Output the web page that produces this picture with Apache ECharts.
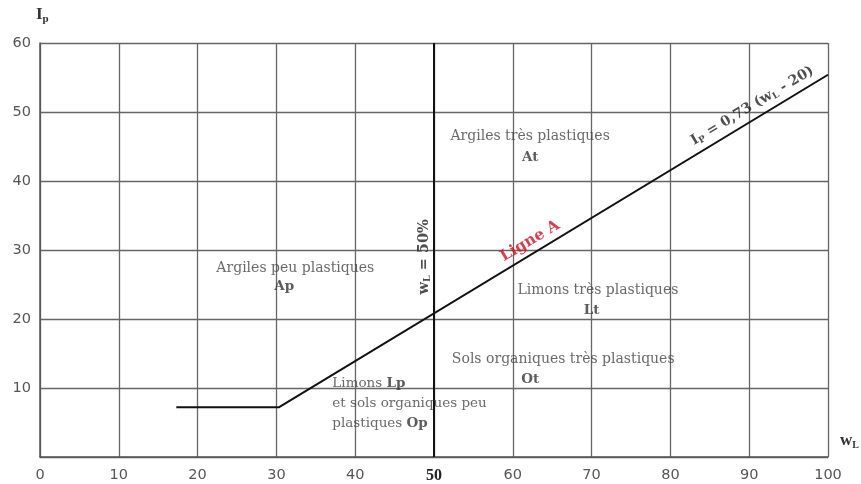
<!DOCTYPE html>
<html><head><meta charset="utf-8">
<script src="https://cdn.jsdelivr.net/npm/echarts@6/dist/echarts.min.js"></script>
<style>html,body{margin:0;padding:0;background:#fff}#c{width:861px;height:484px}</style>
</head><body><div id="c"></div>
<script>
// Data
const xTicks = [0,10,20,30,40,50,60,70,80,90,100];
const yTicks = [0,10,20,30,40,50,60];
const ligneA = [[17.3,7.2],[30.3,7.2],[100,55.4]];
const limite50 = [[50,0],[50,60]];
const zoneLabels = [
  {name:'Argiles très plastiques', x:62.2, y:46.4},
  {name:'Argiles peu plastiques', x:32.4, y:27.4},
  {name:'Limons très plastiques', x:70.8, y:24.2},
  {name:'Sols organiques très plastiques', x:66.4, y:14.1}
];
const zoneCodes = [
  {name:'At', x:62.2, y:43.4},
  {name:'Ap', x:31.0, y:24.7},
  {name:'Lt', x:70.0, y:21.3},
  {name:'Ot', x:62.2, y:11.25}
];
const lowBlock = {x:37.1, y:7.7};
const lineNotes = [
  {name:'Ligne A', x:62.2, y:31.3},
  {name:'formula', x:90.4, y:50.9},
  {name:'wl50', x:48.7, y:29.0}
];

const serif = '"DejaVu Serif","Liberation Serif",serif';
const chart = echarts.init(document.getElementById('c'));
chart.setOption({
  animation:false,
  grid:{left:40,right:33,top:43,bottom:25},
  xAxis:{type:'value',min:0,max:100,interval:10,
    axisLine:{lineStyle:{color:'#555',width:1.5}},
    axisTick:{show:false},
    splitLine:{lineStyle:{color:'#666',width:1.3}},
    axisLabel:{margin:11,color:'#555',fontSize:14.5,fontFamily:'"DejaVu Sans",sans-serif',
      formatter:v=> v===50 ? '{b|50}' : String(v),
      rich:{b:{fontWeight:'bold',fontFamily:'"Liberation Serif",serif',fontSize:16,color:'#222'}}}
  },
  yAxis:{type:'value',min:0,max:60,interval:10,
    axisLine:{show:true,lineStyle:{color:'#555',width:1.5}},
    axisTick:{show:false},
    splitLine:{lineStyle:{color:'#666',width:1.3}},
    axisLabel:{margin:9,color:'#555',fontSize:14.5,fontFamily:'"DejaVu Sans",sans-serif',
      formatter:v=> v===0 ? '' : String(v)}
  },
  graphic:[
    {type:'text',left:36,top:6,style:{text:'{i|I}{s|p}',rich:{i:{fontFamily:'"Liberation Serif",serif',fontWeight:'bold',fontSize:17,fill:'#333'},s:{fontFamily:'"Liberation Serif",serif',fontWeight:'bold',fontSize:11,fill:'#333',padding:[9,0,0,0]}}}},
    {type:'text',left:840,top:432,style:{text:'{i|w}{s|L}',rich:{i:{fontFamily:'"Liberation Serif",serif',fontWeight:'bold',fontSize:17,fill:'#333'},s:{fontFamily:'"Liberation Serif",serif',fontWeight:'bold',fontSize:10,fill:'#333',padding:[9,0,0,0]}}}}
  ],
  series:[
    {type:'line',data:ligneA,symbol:'none',lineStyle:{color:'#111',width:2},z:5},
    {type:'line',data:limite50,symbol:'none',lineStyle:{color:'#111',width:2},z:5},
    {type:'scatter',symbolSize:0,z:6,
      data:zoneLabels.map(d=>({name:d.name,value:[d.x,d.y]})),
      label:{show:true,position:'inside',formatter:'{b}',fontFamily:serif,fontSize:14,color:'#444'}},
    {type:'scatter',symbolSize:0,z:6,
      data:zoneCodes.map(d=>({name:d.name,value:[d.x,d.y]})),
      label:{show:true,position:'inside',formatter:'{b}',fontFamily:serif,fontSize:13.5,fontWeight:'bold',color:'#333'}},
    {type:'scatter',symbolSize:0,z:6,
      data:[{name:'low',value:[lowBlock.x,lowBlock.y]}],
      label:{show:true,position:'inside',align:'left',
        formatter:'{n|Limons }{b|Lp}\n{n|et sols organiques peu}\n{n|plastiques }{b|Op}',
        rich:{n:{fontFamily:serif,fontSize:13.5,color:'#444',lineHeight:20},b:{fontFamily:serif,fontSize:13.5,fontWeight:'bold',color:'#333',lineHeight:20}}}},
    {type:'scatter',symbolSize:0,z:7,
      data:[
        {name:lineNotes[0].name,value:[lineNotes[0].x,lineNotes[0].y],
          label:{formatter:'Ligne A',rotate:31,fontFamily:serif,fontSize:15.5,fontWeight:'bold',color:'#cc1020'}},
        {name:lineNotes[1].name,value:[lineNotes[1].x,lineNotes[1].y],
          label:{formatter:'{t|I}{s|P}{t| = 0,73 (w}{s|L}{t| - 20)}',rotate:31,
            rich:{t:{fontFamily:serif,fontSize:14,fontWeight:'bold',color:'#222'},s:{fontFamily:serif,fontSize:9,fontWeight:'bold',color:'#222',padding:[7,0,0,0]}}}},
        {name:lineNotes[2].name,value:[lineNotes[2].x,lineNotes[2].y],
          label:{formatter:'{t|w}{s|L}{t| = 50%}',rotate:90,
            rich:{t:{fontFamily:serif,fontSize:14.5,fontWeight:'bold',color:'#222'},s:{fontFamily:serif,fontSize:9.5,fontWeight:'bold',color:'#222',padding:[7,0,0,0]}}}}
      ],
      label:{show:true,position:'inside'}}
  ]
});
</script></body></html>
